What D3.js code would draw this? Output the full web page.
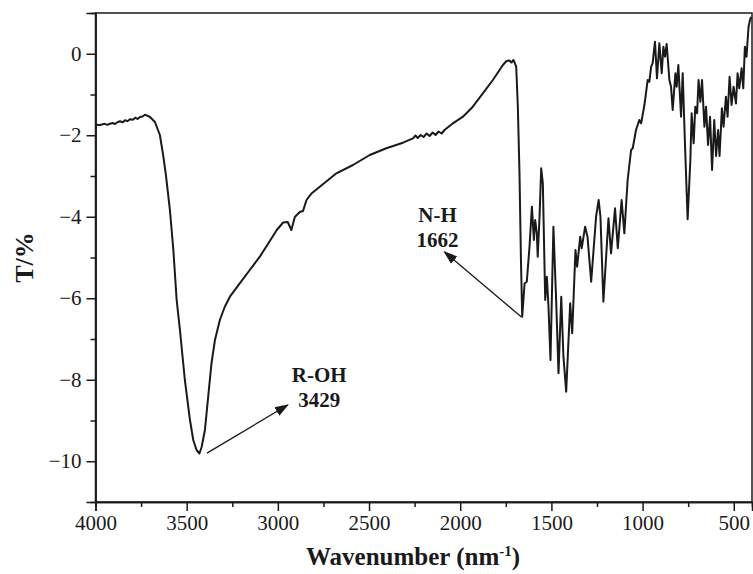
<!DOCTYPE html>
<html>
<head>
<meta charset="utf-8">
<script src="https://cdn.jsdelivr.net/npm/d3@7"></script>
<style>
  html, body { margin: 0; padding: 0; background: #fff; }
  svg { display: block; }
  text { font-family: "Liberation Serif", "Times New Roman", serif; fill: #1a1a1a; }
</style>
</head>
<body>
<svg id="chart" width="753" height="574"></svg>
<script>
// Wavenumber (labelled nm^-1) and transmittance values
const wavenumber = [
  4000, 3975, 3950, 3935, 3921, 3905, 3893, 3880, 3866, 3850, 3838, 3825, 3811, 3795, 3782, 3770, 3756, 3742, 3729,
  3701, 3674, 3647, 3629, 3614, 3592, 3573, 3555, 3537, 3510, 3482, 3464, 3446,
  3430, 3418, 3400, 3382, 3364, 3345, 3318, 3291, 3263, 3209, 3154, 3099, 3044, 3006, 2971, 2946, 2926, 2907, 2880, 2862,
  2843, 2814, 2770, 2679, 2588, 2496, 2405, 2314, 2259, 2245, 2233, 2217, 2201, 2184, 2168, 2151, 2135, 2119, 2102, 2086,
  2040, 1985, 1931, 1876, 1821, 1766, 1746, 1730, 1719, 1708, 1693, 1684, 1675, 1667, 1660,
  1647, 1635, 1620, 1607, 1596, 1589, 1580, 1575, 1565, 1556, 1547, 1534, 1525, 1516, 1505, 1489, 1474, 1461, 1446, 1434,
  1419, 1397, 1386, 1368, 1359, 1342, 1334, 1315, 1302, 1282, 1255, 1241, 1231, 1215, 1187, 1173, 1151, 1136, 1115, 1100,
  1082, 1063, 1054, 1036, 1018, 1008, 990, 972, 963, 953, 945, 932, 921, 908, 895, 886, 877, 868, 853, 844,
  835, 820, 813, 804, 789, 780, 767, 753, 738, 731, 720, 711, 701, 693, 683, 674, 661, 652, 641, 630,
  619, 607, 597, 586, 578, 565, 556, 543, 534, 523, 512, 501, 488, 479, 470, 457, 448, 439, 430, 419,
  411, 404
];
const transmittance = [
  -1.741, -1.748, -1.720, -1.745, -1.717, -1.700, -1.725, -1.680, -1.658, -1.680, -1.630, -1.655, -1.609, -1.620, -1.570, -1.600, -1.552, -1.540, -1.496,
  -1.552, -1.675, -1.994, -2.488, -2.975, -3.834, -4.816, -6.043, -6.779, -8.006, -8.988, -9.479, -9.724,
  -9.810, -9.650, -9.233, -8.416, -7.596, -7.025, -6.534, -6.208, -5.962, -5.633, -5.307, -4.980, -4.595, -4.325, -4.141, -4.129, -4.325, -4.006, -3.883, -3.859,
  -3.589, -3.423, -3.262, -2.934, -2.730, -2.485, -2.320, -2.183, -2.075, -2.006, -2.067, -1.994, -2.043, -1.957, -2.018, -1.933, -1.994, -1.908, -1.957, -1.871,
  -1.707, -1.545, -1.299, -0.971, -0.644, -0.276, -0.178, -0.166, -0.215, -0.153, -0.318, -1.299, -2.934, -5.061, -6.453,
  -5.633, -5.594, -4.735, -3.753, -4.571, -4.080, -4.407, -4.980, -3.999, -2.811, -3.179, -6.043, -5.471, -6.208, -7.515, -4.244, -6.043, -7.842, -5.962, -7.434,
  -8.293, -6.124, -6.860, -4.816, -5.226, -4.490, -4.774, -4.244, -4.490, -5.594, -3.999, -3.589, -3.999, -6.085, -4.038, -4.897, -3.793, -4.774, -3.589, -4.407,
  -3.098, -2.362, -2.320, -1.871, -1.626, -1.707, -1.258, -0.644, -0.686, -0.318, -0.235, 0.296, -0.603, 0.256, -0.480, 0.173, -0.072, 0.239, -0.644, -0.808,
  -1.380, -0.480, -0.808, -0.276, -1.545, -0.480, -2.281, -4.061, -2.607, -1.461, -2.198, -1.299, -1.461, -0.644, -1.177, -0.644, -1.790, -1.299, -2.239, -1.545,
  -2.853, -1.626, -2.508, -1.871, -2.508, -1.339, -1.790, -1.054, -1.545, -0.563, -1.258, -0.808, -1.219, -0.480, -0.849, -0.357, -0.849, 0.173, -0.072, 0.664,
  0.828, 0.902
];

const xTicks = [4000, 3500, 3000, 2500, 2000, 1500, 1000, 500];
const xMinorTicks = [3750, 3250, 2750, 2250, 1750, 1250, 750];
const yTicks = [-10, -8, -6, -4, -2, 0];
const yMinorTicks = [-9, -7, -5, -3, -1];

// Peak annotations: label lines, label anchor, arrow tail (at peak) and arrow head
const annLines = [["R-OH", "3429"], ["N-H", "1662"]];
const annLabelAt = [[2773, -8.05], [2124, -4.13]];
const annArrowFrom = [[3389, -9.80], [1664, -6.46]];
const annArrowTo = [[2946, -8.62], [2086, -4.865]];

const svg = d3.select("#chart");
const margin = { left: 95.5, right: 1, top: 13, bottom: 72 };
const W = 753, H = 574;

const x = d3.scaleLinear().domain([4000, 400]).range([margin.left, W - margin.right]);
const y = d3.scaleLinear().domain([-11, 1]).range([H - margin.bottom, margin.top]);

const ink = "#1a1a1a";

// frame
svg.append("rect")
  .attr("x", x.range()[0]).attr("y", y.range()[1])
  .attr("width", x.range()[1] - x.range()[0])
  .attr("height", y.range()[0] - y.range()[1])
  .attr("fill", "none").attr("stroke", ink).attr("stroke-width", 1.5);

// axes
svg.append("g").attr("transform", `translate(0,${y.range()[0]})`)
  .call(d3.axisBottom(x).tickValues(xTicks).tickSize(9).tickPadding(4).tickFormat(d3.format("d")));
svg.append("g").attr("transform", `translate(0,${y.range()[0]})`)
  .call(d3.axisBottom(x).tickValues(xMinorTicks).tickSize(5).tickFormat(""));
svg.append("g").attr("transform", `translate(${x.range()[0]},0)`)
  .call(d3.axisLeft(y).tickValues(yTicks).tickSize(9).tickPadding(5).tickFormat(d3.format("d")));
svg.append("g").attr("transform", `translate(${x.range()[0]},0)`)
  .call(d3.axisLeft(y).tickValues(yMinorTicks).tickSize(5).tickFormat(""));

svg.selectAll(".domain").attr("stroke", ink).attr("stroke-width", 1.5);
svg.selectAll(".tick line").attr("stroke", ink).attr("stroke-width", 1.5);
svg.selectAll(".tick text")
  .style("font-family", "'Liberation Serif', serif")
  .style("font-size", "21px")
  .attr("fill", ink);

// axis titles
const xt = svg.append("text")
  .attr("x", 413).attr("y", 565)
  .attr("text-anchor", "middle")
  .style("font-size", "25px").style("font-weight", "bold");
xt.append("tspan").text("Wavenumber (nm");
xt.append("tspan").attr("dy", -9).style("font-size", "15px").text("-1");
xt.append("tspan").attr("dy", 9).text(")");

svg.append("text")
  .attr("transform", `translate(33,${(y.range()[0] + y.range()[1]) / 2}) rotate(-90)`)
  .attr("text-anchor", "middle")
  .style("font-size", "26px").style("font-weight", "bold")
  .text("T/%");

// spectrum
const pts = wavenumber.map((w, i) => [w, transmittance[i]]);
svg.append("path")
  .datum(pts)
  .attr("fill", "none")
  .attr("stroke", ink)
  .attr("stroke-width", 2)
  .attr("stroke-linejoin", "round")
  .attr("d", d3.line().x(d => x(d[0])).y(d => y(d[1])));

// arrows
const defs = svg.append("defs");
defs.append("marker")
  .attr("id", "ah").attr("viewBox", "0 0 10 10")
  .attr("refX", 9).attr("refY", 5)
  .attr("markerWidth", 14).attr("markerHeight", 14)
  .attr("markerUnits", "userSpaceOnUse")
  .attr("orient", "auto")
  .append("path").attr("d", "M0,1.5 L10,5 L0,8.5 Z").attr("fill", ink);

annArrowFrom.forEach((f, i) => {
  const t = annArrowTo[i];
  svg.append("line")
    .attr("x1", x(f[0])).attr("y1", y(f[1]))
    .attr("x2", x(t[0])).attr("y2", y(t[1]))
    .attr("stroke", ink).attr("stroke-width", 1.3)
    .attr("marker-end", "url(#ah)");
  const lbl = svg.append("text")
    .attr("x", x(annLabelAt[i][0])).attr("y", y(annLabelAt[i][1]))
    .attr("text-anchor", "middle")
    .style("font-size", "21px").style("font-weight", "bold");
  annLines[i].forEach((s, j) => {
    lbl.append("tspan").attr("x", x(annLabelAt[i][0])).attr("dy", j === 0 ? 0 : 25).text(s);
  });
});
</script>
</body>
</html>
